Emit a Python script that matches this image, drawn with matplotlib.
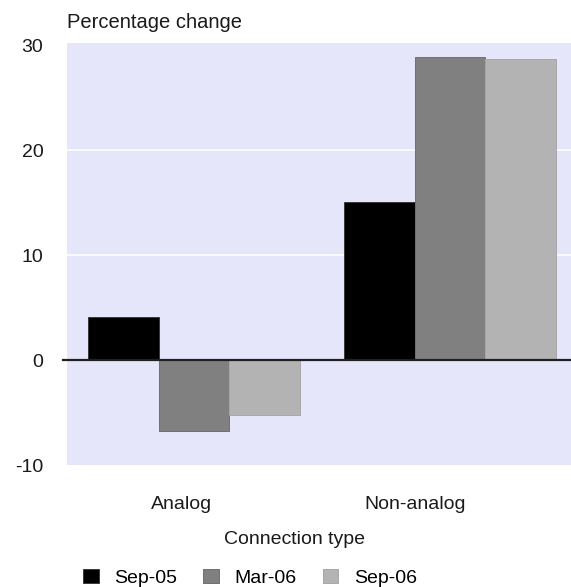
import numpy as np
import matplotlib.pyplot as plt

plt.rcParams['font.family'] = ['Liberation Sans', 'DejaVu Sans']

# connection-type growth, percentage change
categories = ['Analog', 'Non-analog']
periods = ['Sep-05', 'Mar-06', 'Sep-06']
sep05 = [4.1, 15.1]
mar06 = [-6.8, 28.9]
sep06 = [-5.2, 28.7]
yticks = [-10, 0, 10, 20, 30]

colors = ['#000000', '#808080', '#b3b3b3']
edges = ['#3a3a3a', '#6f6f78', '#a6a6ae']

W, H = 571, 587
fig = plt.figure(figsize=(W / 100, H / 100), dpi=100)
ax = fig.add_axes([67 / W, (H - 465) / H, (W - 67) / W, 422 / H])
ax.set_facecolor('#E6E6FA')

x = np.arange(len(categories))
bw = 0.277
for i, (vals, c, ec) in enumerate(zip([sep05, mar06, sep06], colors, edges)):
    ax.bar(x + (i - 1) * bw, vals, width=bw, color=c, edgecolor=ec,
           linewidth=0.7, label=periods[i], zorder=3)

ax.set_xlim(-0.496, -0.496 + 504 / 256)
ax.set_ylim(-10, 30.2)
ax.set_yticks(yticks)
ax.set_yticklabels([str(t) for t in yticks], fontsize=14, color='#1a1a1a')
ax.tick_params(axis='y', length=0, pad=17)

# category labels sit a little left of the group centres
ax.set_xticks(x - np.array([0.05, 0.137]))
ax.set_xticklabels(categories, fontsize=14, color='#1a1a1a')
ax.tick_params(axis='x', length=0, pad=22)

for v in [10, 20]:
    ax.axhline(v, color='white', lw=1.2, zorder=1)
ax.axhline(0, xmin=-4 / 504, xmax=1, color='#202020', lw=1.6, zorder=4,
           clip_on=False)

for s in ax.spines.values():
    s.set_visible(False)

fig.text(67 / W, 1 - 22 / H, 'Percentage change', fontsize=14.5,
         color='#1a1a1a', ha='left', va='center')
fig.text(295 / W, 1 - 540 / H, 'Connection type', fontsize=14,
         color='#1a1a1a', ha='center', va='center')

fig.legend(loc='center left', bbox_to_anchor=(83 / W, 9 / H), ncol=3,
           frameon=False, fontsize=14, handlelength=0.8, handleheight=0.7,
           handletextpad=0.8, columnspacing=1.35, borderpad=0,
           borderaxespad=0)

fig.savefig('out.png', dpi=100, facecolor='white')
